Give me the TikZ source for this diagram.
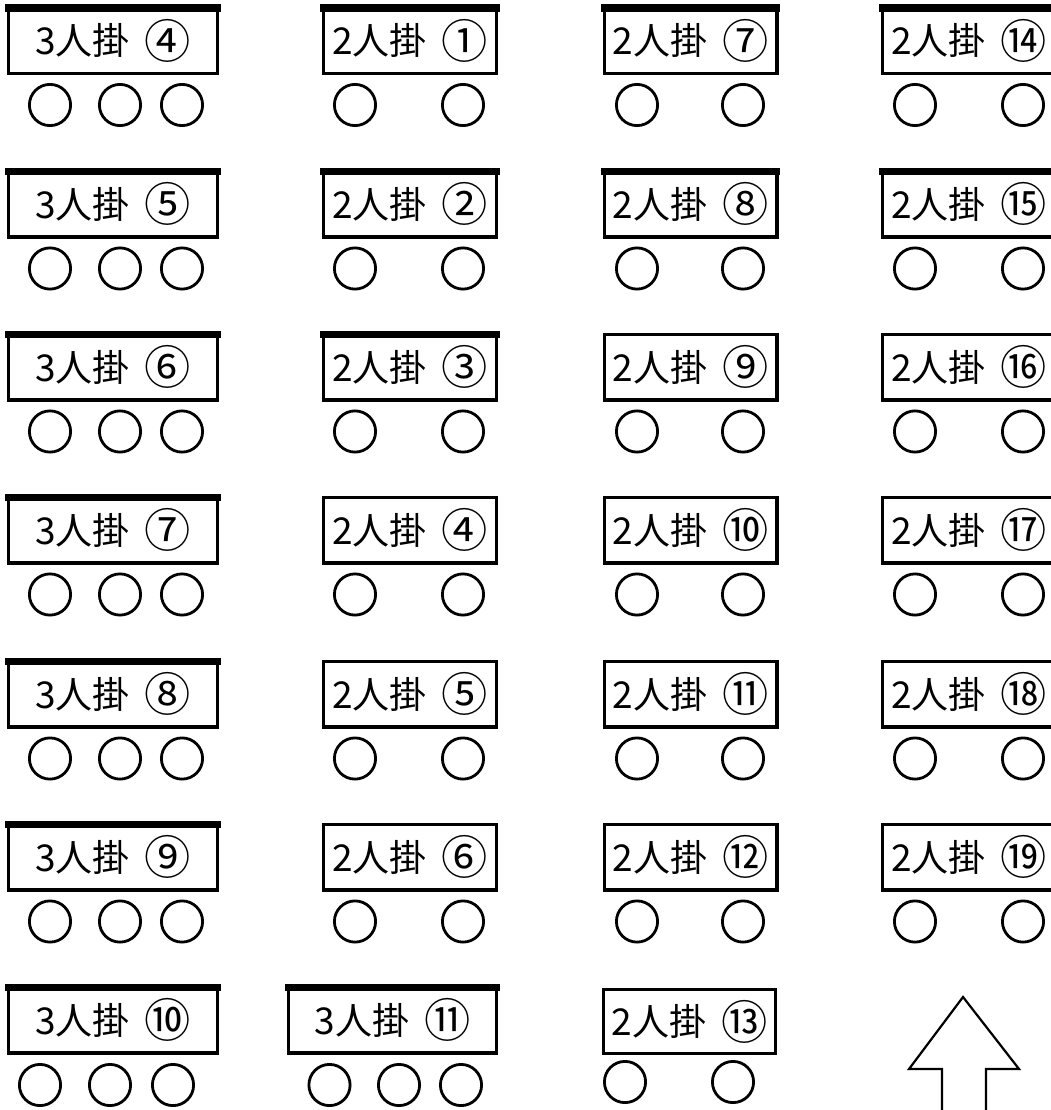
\documentclass[tikz,border=0pt]{standalone}
\usepackage{fontspec}
\usepackage{graphicx}
\newfontfamily\cjk{Noto Sans CJK JP}
\usetikzlibrary{calc}
\newcommand{\cnum}[1]{\raisebox{-0.09em}{\scalebox{1.25}{#1}}}
\begin{document}
\begin{tikzpicture}[x=1pt,y=-1pt,
  seatbox/.style={draw, line width=3.2pt, inner sep=0pt, minimum height=65.8pt,
    font=\cjk\fontsize{37}{37}\selectfont},
  box3/.style={seatbox, minimum width=208.8pt},
  box2/.style={seatbox, minimum width=172.8pt},
  chair/.style={draw, circle, line width=2.8pt, minimum size=41.2pt, inner sep=0pt},
  topbar/.style={fill=black},
  arrowshape/.style={draw, line width=2.2pt, line join=miter}]
\clip (0,0) rectangle (1051,1110);
\fill[white] (0,0) rectangle (1051,1110);
% rows 1-6
\foreach \r/\y/\a/\b/\c/\d in {1/40.5/④/①/⑦/⑭, 2/204/⑤/②/⑧/⑮, 3/367/⑥/③/⑨/⑯,
    4/530/⑦/④/⑩/⑰, 5/694/⑧/⑤/⑪/⑱, 6/857/⑨/⑥/⑫/⑲}{
  \node[box3] (r\r c1) at (113,\y) {3人掛\hspace{0.4em}\cnum{\a}};
  \node[box2] (r\r c2) at (410,\y) {2人掛\hspace{0.4em}\cnum{\b}};
  \node[box2] (r\r c3) at (690.5,\y) {2人掛\hspace{0.4em}\cnum{\c}};
  \node[box2] (r\r c4) at (969,\y) {2人掛\hspace{0.4em}\cnum{\d}};
  \node[chair] (s\r c1a) at (50,\y+64.5) {};
  \node[chair] (s\r c1b) at (120,\y+64.5) {};
  \node[chair] (s\r c1c) at (182,\y+64.5) {};
  \node[chair] (s\r c2a) at (355,\y+64.5) {};
  \node[chair] (s\r c2b) at (463,\y+64.5) {};
  \node[chair] (s\r c3a) at (637,\y+64.5) {};
  \node[chair] (s\r c3b) at (743,\y+64.5) {};
  \node[chair] (s\r c4a) at (915,\y+64.5) {};
  \node[chair] (s\r c4b) at (1023,\y+64.5) {};
}
% row 7
\node[box3] (r7c1) at (113,1020) {3人掛\hspace{0.4em}\cnum{⑩}};
\node[seatbox, minimum width=207.8pt] (r7c2) at (392.5,1020) {3人掛\hspace{0.4em}\cnum{⑪}};
\node[seatbox, minimum width=171.8pt, minimum height=63.8pt] (r7c3) at (689.5,1021.5) {2人掛\hspace{0.4em}\cnum{⑬}};
\node[chair] (s7c1a) at (40,1085) {};
\node[chair] (s7c1b) at (110,1085) {};
\node[chair] (s7c1c) at (173,1085) {};
\node[chair] (s7c2a) at (329.5,1085) {};
\node[chair] (s7c2b) at (399,1085) {};
\node[chair] (s7c2c) at (461,1085) {};
\node[chair] (s7c3a) at (625,1082) {};
\node[chair] (s7c3b) at (733,1082) {};
% thick top edges
\foreach \n in {r1c1,r1c2,r1c3,r1c4,r2c1,r2c2,r2c3,r2c4,r3c1,r3c2,r4c1,r5c1,r6c1,r7c1,r7c2}{
  \fill[topbar] ($(\n.north west)+(-1.6,-1.6)$) rectangle ($(\n.north east)+(1.6,5.6)$);
}
% arrow
\draw[arrowshape] (942,1120) -- (942,1069) -- (909,1069) -- (963,997) -- (1019,1069) -- (986,1069) -- (986,1120);
\end{tikzpicture}
\end{document}
